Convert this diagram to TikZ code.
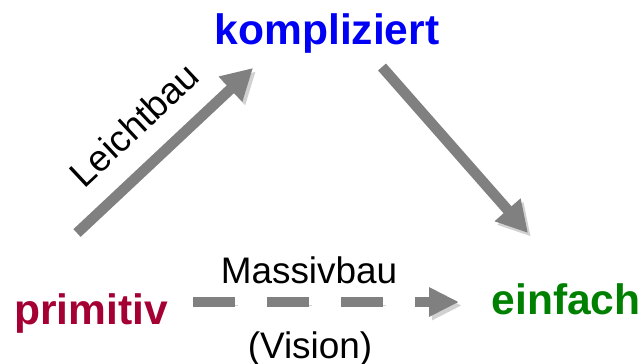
\documentclass[tikz,border=0pt]{standalone}
\usepackage{fontspec}
\setmainfont{Liberation Sans}
\usepackage{xcolor}
\usetikzlibrary{arrows.meta}

\definecolor{kompblue}{RGB}{0,0,245}
\definecolor{primred}{RGB}{165,0,52}
\definecolor{einfgreen}{RGB}{0,128,0}
\definecolor{arrowgray}{RGB}{128,128,128}

\begin{document}
\begin{tikzpicture}[
    x=0.01cm, y=-0.01cm,
    word/.style={anchor=base, inner sep=0pt, font=\fontsize{12.1}{14}\selectfont\bfseries},
    bautext/.style={anchor=base, inner sep=0pt, font=\fontsize{10.5}{12}\selectfont},
    flow/.style={draw=arrowgray, line width=3pt, #1,
                 -{Triangle[length=8.8pt, width=9.2pt]},
                 preaction={draw=black!18, #1, transform canvas={shift={(0.8pt,-1pt)}}}},
    flow/.default={solid},
    vision/.style={flow={dash pattern=on 11.95pt off 9.1pt},
                   -{Triangle[length=8.5pt, width=7.8pt]}}
]
\useasboundingbox (0,0) rectangle (643,363);

\node[word, text=kompblue]  (kompliziert) at (327,44)  {kompliziert};
\node[word, text=primred]   (primitiv)    at (91,324)  {primitiv};
\node[word, text=einfgreen] (einfach)     at (566,314) {einfach};

\coordinate (lb-tail) at (77,233);
\coordinate (lb-tip)  at (253,68);
\coordinate (ve-tail) at (382,67);
\coordinate (ve-tip)  at (528,233);
\coordinate (mb-tail) at (193,302);
\coordinate (mb-tip)  at (459,302);

\draw[flow] (lb-tail) -- node[bautext, pos=0.48, sloped, anchor=south, yshift=6pt] (leichtbau) {Leichtbau} (lb-tip);
\draw[flow] (ve-tail) -- (ve-tip);
\draw[vision] (mb-tail) -- (mb-tip);

\node[bautext] (massivbau) at (309,283) {Massivbau};
\node[bautext] (vision)    at (310,358) {(Vision)};
\end{tikzpicture}
\end{document}
